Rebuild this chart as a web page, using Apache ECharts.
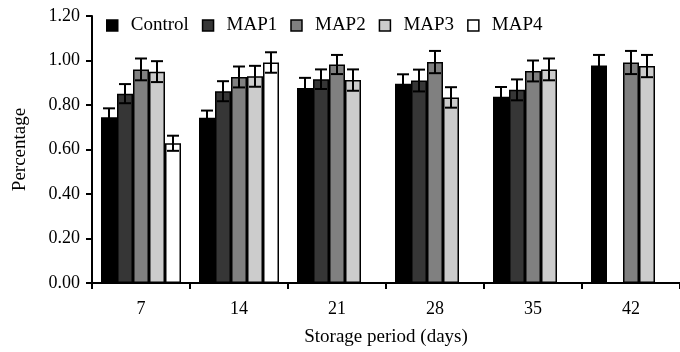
<!DOCTYPE html>
<html>
<head>
<meta charset="utf-8">
<script src="https://cdn.jsdelivr.net/npm/echarts@6/dist/echarts.min.js"></script>
<style>
  html, body { margin: 0; padding: 0; background: #fff; }
  #chart { width: 680px; height: 352px; }
</style>
</head>
<body>
<div id="chart"></div>
<script>
const categories = ['7', '14', '21', '28', '35', '42']
const seriesNames = ['Control', 'MAP1', 'MAP2', 'MAP3', 'MAP4']
const seriesColors = ['#000000', '#363636', '#808080', '#cccccc', '#ffffff']

const control = [0.745, 0.743, 0.876, 0.896, 0.837, 0.977]
const controlErr = [0.040, 0.032, 0.046, 0.042, 0.044, 0.048]
const map1 = [0.851, 0.862, 0.916, 0.910, 0.868, null]
const map1Err = [0.043, 0.045, 0.044, 0.049, 0.047, null]
const map2 = [0.960, 0.926, 0.982, 0.993, 0.953, 0.991]
const map2Err = [0.049, 0.047, 0.043, 0.050, 0.047, 0.052]
const map3 = [0.950, 0.929, 0.912, 0.834, 0.960, 0.975]
const map3Err = [0.047, 0.047, 0.048, 0.046, 0.049, 0.050]
const map4 = [0.628, 0.991, null, null, null, null]
const map4Err = [0.034, 0.046, null, null, null, null]

const yTicks = [0, 0.2, 0.4, 0.6, 0.8, 1.0, 1.2]

const values = [control, map1, map2, map3, map4]
const errors = [controlErr, map1Err, map2Err, map3Err, map4Err]

const font = "'Liberation Serif', 'Times New Roman', serif"
const barWidth = 16

const chart = echarts.init(document.getElementById('chart'))

const barSeries = seriesNames.map((name, i) => ({
  name: name,
  type: 'bar',
  data: values[i],
  barWidth: barWidth,
  barGap: '0%',
  itemStyle: {
    color: seriesColors[i],
    borderColor: '#000',
    borderWidth: 1.5
  },
  z: 2
}))

// error bars drawn on top of each bar
const errSeries = seriesNames.map((name, i) => ({
  type: 'custom',
  name: name + ' err',
  data: values[i].map((v, k) => v == null ? null : [k, v, errors[i][k]]).filter(d => d),
  z: 5,
  silent: true,
  renderItem: function (params, api) {
    const x = api.value(0)
    const v = api.value(1)
    const e = api.value(2)
    const hi = api.coord([x, v + e])
    const lo = api.coord([x, v - e])
    const cx = hi[0] + (i - 2) * barWidth
    const half = 6
    const st = { stroke: '#000', lineWidth: 2 }
    return {
      type: 'group',
      children: [
        { type: 'line', shape: { x1: cx, y1: hi[1], x2: cx, y2: lo[1] }, style: st },
        { type: 'line', shape: { x1: cx - half, y1: hi[1], x2: cx + half, y2: hi[1] }, style: st },
        { type: 'line', shape: { x1: cx - half, y1: lo[1], x2: cx + half, y2: lo[1] }, style: st }
      ]
    }
  }
}))

chart.setOption({
  animation: false,
  textStyle: { fontFamily: font, color: '#000' },
  legend: {
    data: seriesNames,
    left: 101,
    top: 11,
    itemWidth: 11,
    itemHeight: 11,
    itemGap: 13,
    icon: 'rect',
    itemStyle: { borderColor: '#000', borderWidth: 1.5 },
    textStyle: { fontFamily: font, fontSize: 19, color: '#000', padding: [0, 0, 0, 8] }
  },
  grid: {
    left: 92,
    top: 16,
    width: 612,
    bottom: 65
  },
  xAxis: {
    type: 'category',
    data: categories,
    name: 'Storage period (days)',
    nameLocation: 'middle',
    nameGap: 45,
    nameTextStyle: { fontFamily: font, fontSize: 19, color: '#000' },
    axisLine: { show: true, lineStyle: { color: '#000', width: 2 } },
    axisTick: { show: true, length: 6, lineStyle: { color: '#000', width: 2 } },
    axisLabel: { fontFamily: font, fontSize: 18, color: '#000', margin: 17 }
  },
  yAxis: {
    type: 'value',
    min: 0,
    max: 1.2,
    interval: 0.2,
    name: 'Percentage',
    nameLocation: 'middle',
    nameGap: 62,
    nameTextStyle: { fontFamily: font, fontSize: 19, color: '#000' },
    axisLine: { show: true, lineStyle: { color: '#000', width: 2 } },
    axisTick: { show: true, length: 6, lineStyle: { color: '#000', width: 2 } },
    splitLine: { show: false },
    axisLabel: {
      fontFamily: font,
      fontSize: 18,
      color: '#000',
      margin: 12,
      formatter: (v) => yTicks.includes(+v.toFixed(1)) ? v.toFixed(2) : ''
    }
  },
  series: barSeries.concat(errSeries)
})
</script>
</body>
</html>
